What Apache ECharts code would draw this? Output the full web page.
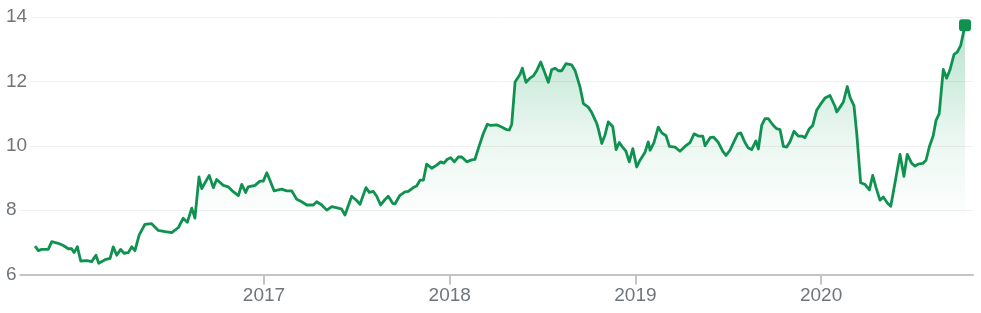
<!DOCTYPE html>
<html>
<head>
<meta charset="utf-8">
<script src="https://cdn.jsdelivr.net/npm/echarts@6/dist/echarts.min.js"></script>
<style>
html,body{margin:0;padding:0;background:#fff;}
#chart{width:981px;height:313px;}
</style>
</head>
<body>
<div id="chart"></div>
<script>
// Time as decimal years, price values
const years = [
2015.767,2015.785,2015.803,2015.838,2015.857,2015.892,2015.919,2015.946,2015.964,2015.977,
2015.995,2016.013,2016.048,2016.072,2016.095,2016.110,2016.144,2016.171,2016.188,2016.207,
2016.228,2016.246,2016.269,2016.288,2016.305,2016.328,2016.359,2016.395,2016.431,2016.467,
2016.503,2016.539,2016.565,2016.587,2016.611,2016.628,2016.650,2016.665,2016.705,2016.727,
2016.745,2016.781,2016.808,2016.829,2016.862,2016.880,2016.901,2016.915,2016.952,2016.978,
2016.996,2017.015,2017.032,2017.054,2017.095,2017.122,2017.149,2017.176,2017.203,2017.230,
2017.265,2017.284,2017.311,2017.338,2017.365,2017.400,2017.418,2017.436,2017.472,2017.499,
2017.517,2017.549,2017.567,2017.589,2017.607,2017.628,2017.652,2017.669,2017.693,2017.705,
2017.732,2017.759,2017.777,2017.804,2017.822,2017.840,2017.858,2017.876,2017.903,2017.930,
2017.951,2017.969,2017.987,2018.005,2018.025,2018.046,2018.065,2018.092,2018.118,2018.136,
2018.154,2018.181,2018.203,2018.221,2018.253,2018.280,2018.307,2018.321,2018.334,2018.352,
2018.379,2018.391,2018.411,2018.432,2018.450,2018.469,2018.490,2018.508,2018.531,2018.549,
2018.567,2018.585,2018.603,2018.626,2018.657,2018.675,2018.702,2018.720,2018.746,2018.765,
2018.792,2018.800,2018.819,2018.836,2018.854,2018.878,2018.896,2018.913,2018.932,2018.949,
2018.967,2018.986,2019.007,2019.025,2019.052,2019.069,2019.079,2019.100,2019.123,2019.142,
2019.165,2019.183,2019.213,2019.240,2019.267,2019.294,2019.316,2019.339,2019.363,2019.375,
2019.402,2019.420,2019.447,2019.470,2019.488,2019.509,2019.536,2019.551,2019.567,2019.590,
2019.608,2019.626,2019.649,2019.662,2019.680,2019.698,2019.716,2019.743,2019.761,2019.779,
2019.797,2019.815,2019.833,2019.854,2019.877,2019.896,2019.913,2019.937,2019.955,2019.976,
2019.998,2020.021,2020.048,2020.075,2020.084,2020.102,2020.120,2020.141,2020.156,2020.177,
2020.192,2020.213,2020.236,2020.260,2020.278,2020.296,2020.317,2020.335,2020.357,2020.375,
2020.398,2020.425,2020.446,2020.464,2020.488,2020.506,2020.523,2020.547,2020.565,2020.583,
2020.604,2020.619,2020.636,2020.658,2020.676,2020.694,2020.716,2020.733,2020.752,2020.775
];
const prices = [
6.88,6.74,6.78,6.78,7.02,6.97,6.90,6.80,6.80,6.68,
6.86,6.42,6.43,6.40,6.60,6.35,6.46,6.50,6.86,6.60,
6.78,6.66,6.68,6.86,6.74,7.23,7.56,7.58,7.37,7.33,
7.30,7.46,7.75,7.62,8.06,7.75,9.03,8.67,9.08,8.70,
8.95,8.77,8.72,8.60,8.45,8.80,8.55,8.72,8.77,8.90,
8.90,9.16,8.93,8.60,8.65,8.60,8.60,8.34,8.26,8.16,
8.16,8.26,8.16,8.00,8.11,8.06,8.03,7.85,8.43,8.30,
8.18,8.70,8.55,8.58,8.43,8.16,8.33,8.43,8.21,8.19,
8.46,8.57,8.58,8.70,8.75,8.93,8.93,9.43,9.30,9.40,
9.50,9.46,9.58,9.63,9.50,9.65,9.65,9.50,9.56,9.58,
9.91,10.38,10.67,10.63,10.65,10.58,10.50,10.49,10.67,11.98,
12.22,12.41,11.97,12.10,12.17,12.34,12.60,12.33,11.97,12.36,
12.41,12.33,12.33,12.55,12.51,12.34,11.82,11.31,11.20,11.03,
10.69,10.53,10.07,10.33,10.74,10.60,9.88,10.10,9.95,9.83,
9.50,9.91,9.34,9.55,9.80,10.12,9.86,10.10,10.58,10.40,
10.31,9.98,9.96,9.83,9.98,10.10,10.37,10.30,10.30,10.00,
10.25,10.27,10.10,9.83,9.70,9.86,10.19,10.37,10.40,10.10,
9.93,9.88,10.15,9.90,10.63,10.84,10.84,10.63,10.53,10.50,
9.98,9.96,10.13,10.45,10.30,10.30,10.25,10.53,10.63,11.10,
11.30,11.48,11.56,11.22,11.05,11.20,11.36,11.84,11.50,11.25,
10.38,8.85,8.80,8.63,9.08,8.70,8.31,8.41,8.22,8.12,
8.85,9.73,9.05,9.73,9.45,9.37,9.43,9.45,9.55,9.97,
10.32,10.79,11.00,12.37,12.10,12.36,12.84,12.91,13.12,13.74
];
const yearTicks = [2017, 2018, 2019, 2020];
const yTicks = [6, 8, 10, 12, 14];

const seriesData = years.map((y, i) => [y, prices[i]]);
const last = seriesData[seriesData.length - 1];
const GREEN = '#0f9150';

const chart = echarts.init(document.getElementById('chart'), null, {renderer: 'canvas'});
chart.setOption({
  animation: false,
  backgroundColor: '#fff',
  grid: {left: 20, right: 8, top: 17, bottom: 38.5, containLabel: false},
  xAxis: {
    type: 'value',
    min: 2015.686,
    max: 2020.818,
    axisLine: {show: true, lineStyle: {color: '#c4c4c4', width: 2}},
    axisTick: {show: true, customValues: yearTicks, length: 10, lineStyle: {color: '#c4c4c4', width: 2}},
    axisLabel: {
      customValues: yearTicks,
      formatter: v => String(Math.round(v)),
      color: '#70757a',
      fontSize: 19,
      fontFamily: 'Liberation Sans, Arial, sans-serif',
      margin: 12
    },
    splitLine: {show: false}
  },
  yAxis: {
    type: 'value',
    min: 6,
    max: 14,
    interval: 2,
    axisLine: {show: false},
    axisTick: {show: false},
    axisLabel: {
      color: '#70757a',
      fontSize: 19,
      fontFamily: 'Liberation Sans, Arial, sans-serif',
      align: 'left',
      margin: 14,
      backgroundColor: '#fff',
      padding: [2, 3, 2, 0]
    },
    splitLine: {show: true, lineStyle: {color: '#f0f0f0', width: 1}}
  },
  series: [
    {
      type: 'line',
      data: seriesData,
      showSymbol: false,
      smooth: false,
      lineStyle: {color: GREEN, width: 2.8, join: 'round'},
      areaStyle: {
        color: new echarts.graphic.LinearGradient(0, 0, 0, 1, [
          {offset: 0, color: 'rgba(15,157,88,0.42)'},
          {offset: 0.45, color: 'rgba(15,157,88,0.12)'},
          {offset: 0.8, color: 'rgba(15,157,88,0)'},
          {offset: 1, color: 'rgba(15,157,88,0)'}
        ])
      },
      z: 3
    },
    {
      type: 'scatter',
      data: [last],
      symbol: 'roundRect',
      symbolSize: 12,
      itemStyle: {color: GREEN, opacity: 1},
      z: 4
    }
  ]
});
</script>
</body>
</html>
